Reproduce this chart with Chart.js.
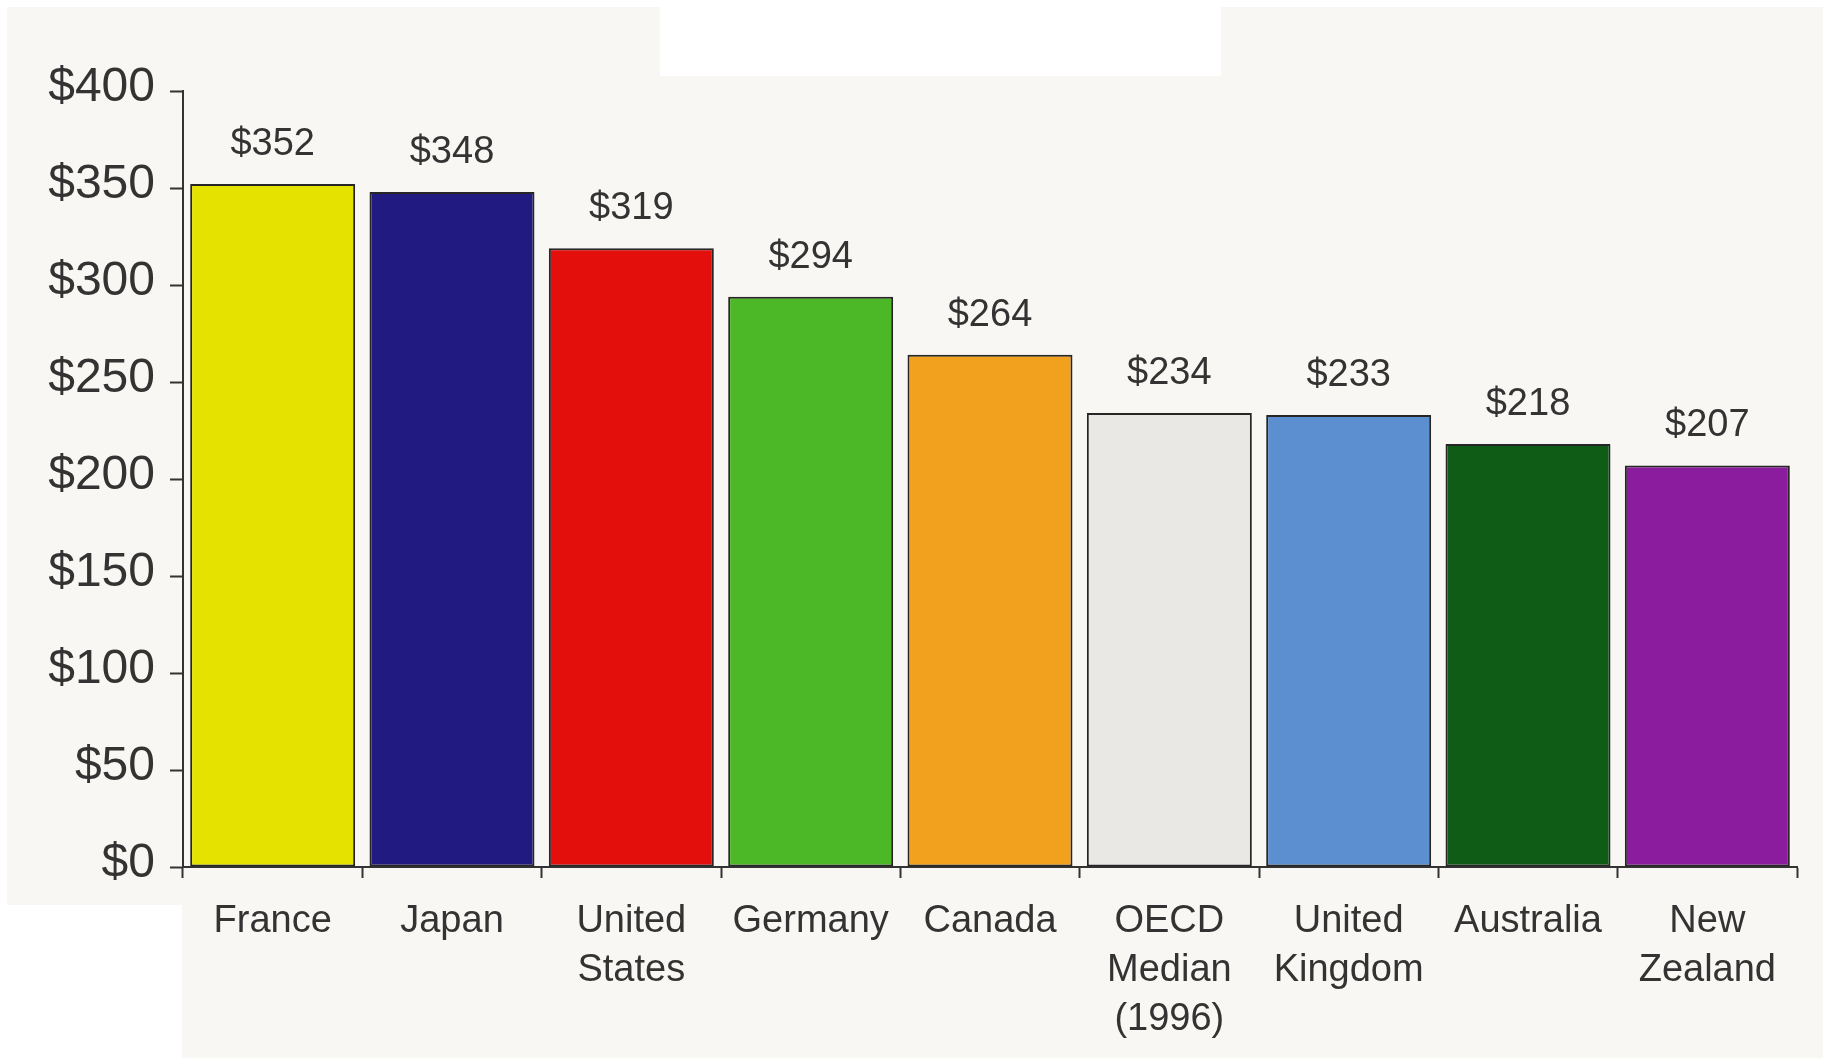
<!DOCTYPE html>
<html>
<head>
<meta charset="utf-8">
<script src="https://cdn.jsdelivr.net/npm/chart.js@4/dist/chart.umd.min.js"></script>
<style>
  html, body { margin: 0; padding: 0; background: #ffffff; }
  #wrap { width: 1823px; height: 1062px; }
</style>
</head>
<body>
<div id="wrap"><canvas id="chart" width="1823" height="1062"></canvas></div>
<script>
// Spending per capita by country
const categories = [
  ['France'], ['Japan'], ['United', 'States'], ['Germany'], ['Canada'],
  ['OECD', 'Median', '(1996)'], ['United', 'Kingdom'], ['Australia'], ['New', 'Zealand']
];
const values = [352, 348, 319, 294, 264, 234, 233, 218, 207];
const barColors = ['#e6e200', '#211a80', '#e20f0d', '#4cb828', '#f2a11e', '#e9e8e5', '#5b8fd0', '#0e5c15', '#8c1c9e'];
const yTickValues = [0, 50, 100, 150, 200, 250, 300, 350, 400];

const ink = '#333333';
const sans = "'Liberation Sans', Arial, sans-serif";

// paper-coloured panels behind the plot
const paperPlugin = {
  id: 'paper',
  beforeDraw(chart) {
    const ctx = chart.ctx;
    const w = chart.width, h = chart.height;
    ctx.save();
    ctx.fillStyle = '#ffffff';
    ctx.fillRect(0, 0, w, h);
    ctx.fillStyle = '#f9f7f3';
    ctx.beginPath();
    ctx.moveTo(7, 7);
    ctx.lineTo(660, 7);
    ctx.lineTo(660, 76);
    ctx.lineTo(1221, 76);
    ctx.lineTo(1221, 7);
    ctx.lineTo(w, 7);
    ctx.lineTo(w, 1058);
    ctx.lineTo(182, 1058);
    ctx.lineTo(182, 905);
    ctx.lineTo(7, 905);
    ctx.closePath();
    ctx.fill();
    ctx.restore();
  }
};

// value printed above each bar
const valueLabels = {
  id: 'valueLabels',
  afterDatasetsDraw(chart) {
    const ctx = chart.ctx;
    const meta = chart.getDatasetMeta(0);
    ctx.save();
    ctx.font = '38px ' + sans;
    ctx.fillStyle = ink;
    ctx.textAlign = 'center';
    ctx.textBaseline = 'alphabetic';
    meta.data.forEach((bar, i) => {
      ctx.fillText('$' + values[i], bar.x, bar.y - 29);
    });
    ctx.restore();
  }
};

new Chart(document.getElementById('chart'), {
  type: 'bar',
  data: {
    labels: categories,
    datasets: [{
      data: values,
      backgroundColor: barColors,
      borderColor: '#262626',
      borderWidth: 2,
      borderSkipped: false,
      barPercentage: 0.92,
      categoryPercentage: 1.0
    }]
  },
  options: {
    responsive: false,
    animation: false,
    layout: { padding: { top: 91, right: 26, left: 0, bottom: 0 } },
    plugins: {
      legend: { display: false },
      tooltip: { enabled: false }
    },
    scales: {
      x: {
        grid: {
          display: true,
          drawOnChartArea: false,
          drawTicks: true,
          tickLength: 11,
          tickWidth: 2,
          color: ink,
          offset: true
        },
        border: { display: true, color: ink, width: 2 },
        ticks: {
          color: ink,
          font: { family: sans, size: 38, lineHeight: 1.29 },
          padding: 19,
          maxRotation: 0,
          autoSkip: false
        },
        afterFit(scale) { scale.height = 195; }
      },
      y: {
        min: 0,
        max: 400,
        afterBuildTicks(scale) {
          scale.ticks = yTickValues.map(v => ({ value: v }));
        },
        grid: {
          display: true,
          drawOnChartArea: false,
          drawTicks: true,
          tickLength: 13,
          tickWidth: 2,
          color: ink
        },
        border: { display: true, color: ink, width: 2 },
        ticks: {
          color: ink,
          font: { family: sans, size: 48 },
          padding: 15,
          labelOffset: -3,
          callback: (v) => '$' + v
        },
        afterFit(scale) { scale.width = 183; }
      }
    }
  },
  plugins: [paperPlugin, valueLabels]
});
</script>
</body>
</html>
